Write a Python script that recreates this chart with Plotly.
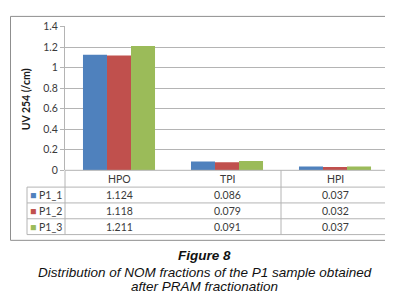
import plotly.graph_objects as go

# ---- data ----
categories = ["HPO", "TPI", "HPI"]
series_names = ["P1_1", "P1_2", "P1_3"]
p1_1 = [1.124, 0.086, 0.037]
p1_2 = [1.118, 0.079, 0.032]
p1_3 = [1.211, 0.091, 0.037]
series_values = [p1_1, p1_2, p1_3]
y_tick_values = [0, 0.2, 0.4, 0.6, 0.8, 1.0, 1.2, 1.4]
y_title = "UV 254 (/cm)"
caption_title = "Figure 8"
caption_lines = ["Distribution of NOM fractions of the P1 sample obtained",
                 "after PRAM fractionation"]

# ---- style ----
colors = ["#4F81BD", "#C0504D", "#9BBB59"]
W, H = 393, 293
GRID = "#b4b4b4"
TXT = "#3a3a3a"
BODY_FONT = "Lato, 'Open Sans', sans-serif"
CAP_FONT = "'Liberation Sans', Arial, sans-serif"


def px(x):
    return x / W


def py(y):
    return 1 - y / H


plot_l, plot_r, plot_t, plot_b = 57, 381, 13, 163
row_lines = [163, 180.5, 197, 213.5, 230]

fig = go.Figure()
for name, vals, c in zip(series_names, series_values, colors):
    fig.add_trace(go.Bar(x=categories, y=vals, name=name, marker=dict(color=c, line=dict(width=0))))

shapes = []
# outer border
shapes.append(dict(type="rect", xref="paper", yref="paper", x0=px(2.5), x1=px(390.5), y0=py(236), y1=py(2.5),
                   line=dict(color="#8f8f8f", width=1)))
# table horizontal lines
for i, ry in enumerate(row_lines):
    x0 = plot_l if i == 0 else 19
    shapes.append(dict(type="line", xref="paper", yref="paper", x0=px(x0), x1=px(plot_r), y0=py(ry), y1=py(ry),
                       line=dict(color=GRID, width=1)))
# table vertical lines
shapes.append(dict(type="line", xref="paper", yref="paper", x0=px(19), x1=px(19), y0=py(180.5), y1=py(230),
                   line=dict(color=GRID, width=1)))
for vx in [plot_l, 273, plot_r]:
    shapes.append(dict(type="line", xref="paper", yref="paper", x0=px(vx), x1=px(vx), y0=py(163), y1=py(230),
                       line=dict(color=GRID, width=1)))

annotations = []
# header row
for cat in categories:
    annotations.append(dict(x=cat, xref="x", y=py(172), yref="paper", text=cat, showarrow=False,
                            font=dict(family=BODY_FONT, size=10.5, color=TXT), xanchor="center", yanchor="middle"))
# value rows
row_centers = [189, 205.5, 222]
for name, vals, c, rc in zip(series_names, series_values, colors, row_centers):
    annotations.append(dict(x=px(20), xref="paper", y=py(rc), yref="paper",
                            text=f"<span style='color:{c}'>■</span> {name}", showarrow=False,
                            font=dict(family=BODY_FONT, size=10.5, color=TXT), xanchor="left", yanchor="middle"))
    for cat, v in zip(categories, vals):
        annotations.append(dict(x=cat, xref="x", y=py(rc), yref="paper", text=f"{v:.3f}", showarrow=False,
                                font=dict(family=BODY_FONT, size=10.5, color=TXT), xanchor="center", yanchor="middle"))
# y title
annotations.append(dict(x=px(18), xref="paper", y=py(89), yref="paper", text=f"<b>{y_title}</b>", textangle=-90,
                        showarrow=False, font=dict(family=BODY_FONT, size=10.5, color="#1a1a1a"),
                        xanchor="center", yanchor="middle"))
# caption
annotations.append(dict(x=0.5, xref="paper", y=py(251.5), yref="paper", text=f"<b><i>{caption_title}</i></b>",
                        showarrow=False, font=dict(family=CAP_FONT, size=13.5, color="#111111"),
                        xanchor="center", yanchor="middle", borderpad=0))
for i, line in enumerate(caption_lines):
    annotations.append(dict(x=0.5, xref="paper", y=py(269.5 + 14.5 * i), yref="paper", text=f"<i>{line}</i>",
                            showarrow=False, font=dict(family=CAP_FONT, size=13.5, color="#111111"),
                            xanchor="center", yanchor="middle", borderpad=0))

fig.update_layout(
    width=W, height=H,
    margin=dict(l=0, r=0, t=0, b=0),
    paper_bgcolor="white", plot_bgcolor="white",
    showlegend=False,
    barmode="group", bargap=0.333, bargroupgap=0,
    xaxis=dict(domain=[px(plot_l), px(plot_r)], showticklabels=False, showgrid=False, zeroline=False,
               showline=False, ticks=""),
    yaxis=dict(domain=[py(plot_b), py(plot_t)], range=[0, 1.4], tickvals=y_tick_values,
               showgrid=True, gridcolor=GRID, gridwidth=1, zeroline=False,
               showline=True, linecolor=GRID, linewidth=1, ticks="outside", ticklen=4, tickcolor=GRID,
               tickfont=dict(family=BODY_FONT, size=10.5, color=TXT)),
    shapes=shapes,
    annotations=annotations,
)

fig.write_html("out.html")
